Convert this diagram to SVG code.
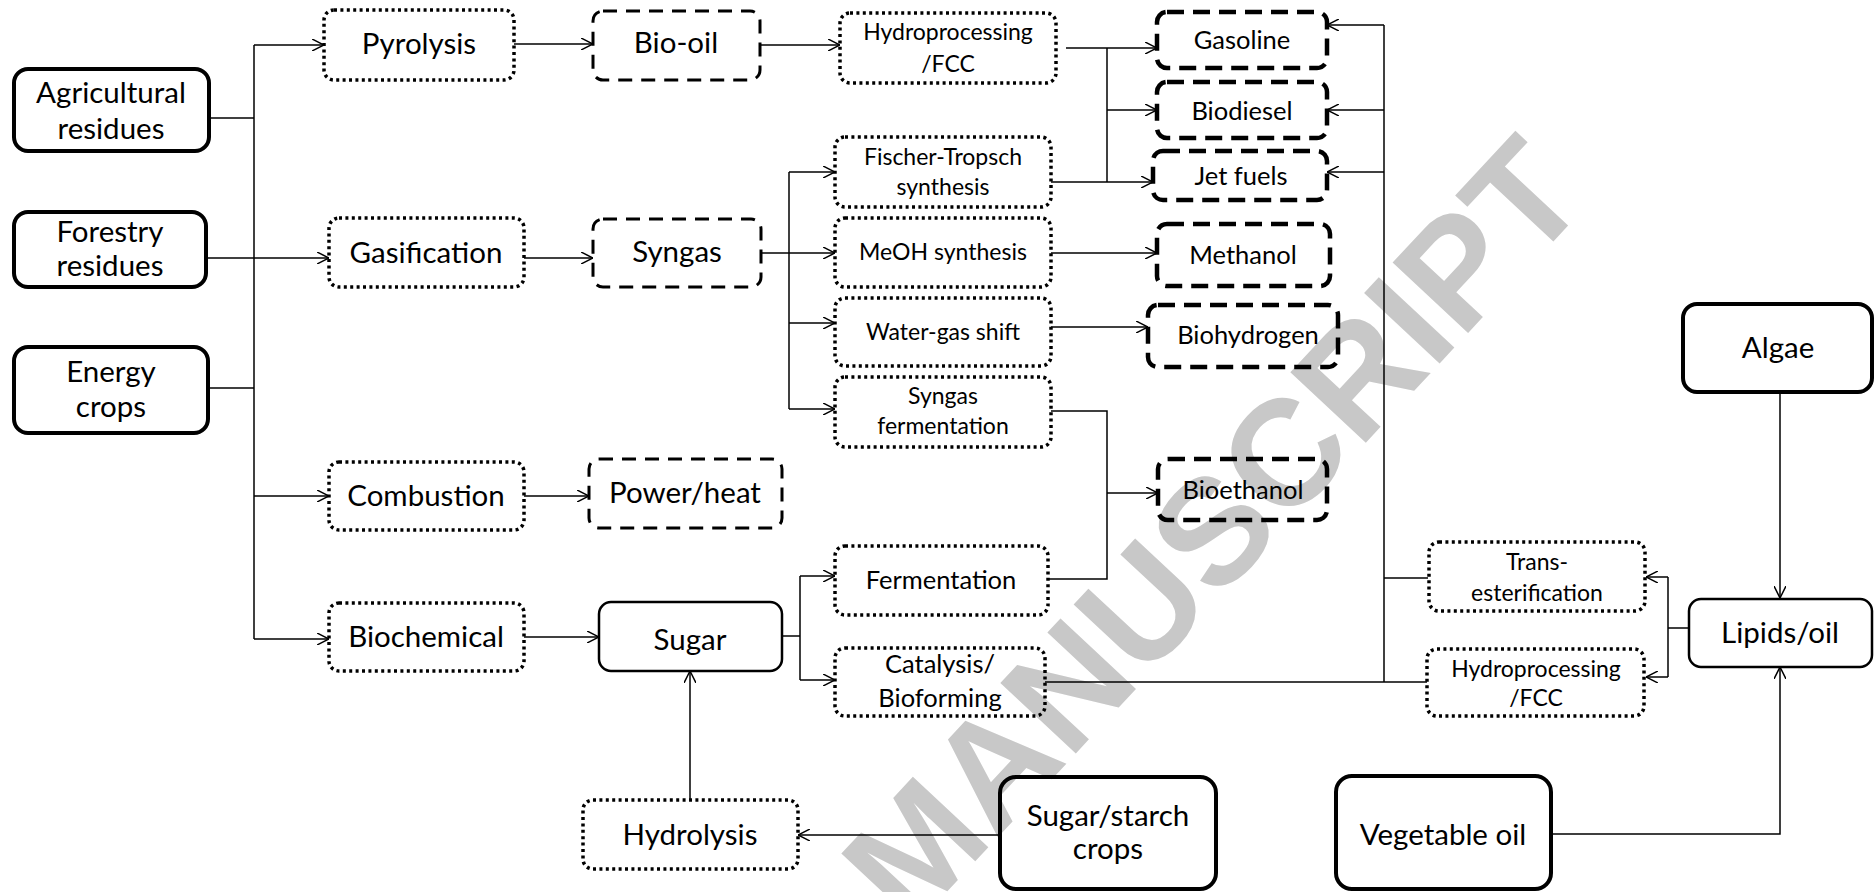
<svg xmlns="http://www.w3.org/2000/svg" width="1874" height="892" viewBox="0 0 1874 892">
<defs>
<marker id="arr" viewBox="0 0 12 12" refX="12" refY="6" markerWidth="12" markerHeight="12" markerUnits="userSpaceOnUse" orient="auto">
<path d="M0,0 L12,6 L0,12" fill="none" stroke="#000" stroke-width="1.5"/>
</marker>
</defs>
<style>
text{font-family:Lato,"Liberation Sans",sans-serif;fill:#000;text-anchor:middle}
.big{font-size:29.5px}
.med{font-size:25.5px}
.sm{font-size:23px}
.src{fill:none;stroke:#000;stroke-width:4}
.mid{fill:none;stroke:#000;stroke-width:2.5}
.dot{fill:none;stroke:#000;stroke-width:3.5;stroke-dasharray:3 3.4}
.dsh{fill:none;stroke:#000;stroke-width:3;stroke-dasharray:14 9}
.fuel{fill:none;stroke:#000;stroke-width:4.5;stroke-dasharray:17 9}
.ln{fill:none;stroke:#000;stroke-width:1.5}
.a{marker-end:url(#arr)}
.wm{font-family:"Liberation Sans",Arial,sans-serif;font-weight:bold;font-size:150px;fill:#c8c8c8;text-anchor:end}
</style>
<g id="watermark">
<text class="wm" transform="translate(1592,200) rotate(-47)">ACCEPTED MANUSCRIPT</text>
</g>
<g id="connectors">
<path class="ln" d="M209,118 H254"/>
<path class="ln a" d="M206,258 H329"/>
<path class="ln" d="M208,388 H254"/>
<path class="ln" d="M254,45 V639"/>
<path class="ln a" d="M254,45 H324"/>
<path class="ln a" d="M254,496 H329"/>
<path class="ln a" d="M254,639 H329"/>
<path class="ln a" d="M514,44 H593"/>
<path class="ln a" d="M524,258 H593"/>
<path class="ln a" d="M524,496 H589"/>
<path class="ln a" d="M524,637 H599"/>
<path class="ln a" d="M760,45 H840"/>
<path class="ln a" d="M761,253 H835"/>
<path class="ln" d="M789,172 V409"/>
<path class="ln a" d="M789,172 H835"/>
<path class="ln a" d="M789,323 H835"/>
<path class="ln a" d="M789,409 H835"/>
<path class="ln a" d="M1066,48 H1157"/>
<path class="ln" d="M1107,48 V182"/>
<path class="ln a" d="M1107,110 H1157"/>
<path class="ln a" d="M1051,182 H1153"/>
<path class="ln a" d="M1051,253 H1157"/>
<path class="ln a" d="M1051,327 H1148"/>
<path class="ln" d="M1051,411 H1107 V579 H1048"/>
<path class="ln a" d="M1107,493 H1158"/>
<path class="ln" d="M782,636 H800"/>
<path class="ln" d="M800,576 V680"/>
<path class="ln a" d="M800,576 H835"/>
<path class="ln a" d="M800,680 H835"/>
<path class="ln" d="M1045,682 H1427"/>
<path class="ln" d="M1384,25 V682"/>
<path class="ln a" d="M1384,25 H1327"/>
<path class="ln a" d="M1384,110 H1327"/>
<path class="ln a" d="M1384,172 H1327"/>
<path class="ln" d="M1428,578 H1384"/>
<path class="ln" d="M1689,628 H1668"/>
<path class="ln" d="M1668,577 V677"/>
<path class="ln a" d="M1668,577 H1646"/>
<path class="ln a" d="M1668,677 H1646"/>
<path class="ln a" d="M1780,392 V598"/>
<path class="ln a" d="M1551,834 H1780 V667"/>
<path class="ln a" d="M1000,835 H798"/>
<path class="ln a" d="M690,800 V671"/>
</g>
<g id="agri"><rect class="src" x="14" y="69" width="195" height="82" rx="14"/><text class="big" x="111" y="103">Agricultural</text><text class="big" x="111" y="139">residues</text></g>
<g id="forestry"><rect class="src" x="14" y="212" width="192" height="75" rx="14"/><text class="big" x="110" y="242">Forestry</text><text class="big" x="110" y="276">residues</text></g>
<g id="energy"><rect class="src" x="14" y="347" width="194" height="86" rx="14"/><text class="big" x="111" y="382">Energy</text><text class="big" x="111" y="417">crops</text></g>
<g id="pyrolysis"><rect class="dot" x="324" y="10" width="190" height="70" rx="10"/><text class="big" x="419" y="54">Pyrolysis</text></g>
<g id="gasification"><rect class="dot" x="329" y="218" width="195" height="69" rx="10"/><text class="big" x="426" y="263">Gasification</text></g>
<g id="combustion"><rect class="dot" x="329" y="462" width="195" height="68" rx="10"/><text class="big" x="426" y="506">Combustion</text></g>
<g id="biochemical"><rect class="dot" x="329" y="603" width="195" height="68" rx="10"/><text class="big" x="426" y="647">Biochemical</text></g>
<g id="biooil"><rect class="dsh" x="593" y="11" width="167" height="69" rx="10"/><text class="big" x="676" y="53">Bio-oil</text></g>
<g id="syngas"><rect class="dsh" x="593" y="219" width="168" height="68" rx="10"/><text class="big" x="677" y="262">Syngas</text></g>
<g id="powerheat"><rect class="dsh" x="589" y="459" width="193" height="69" rx="10"/><text class="big" x="685" y="503">Power/heat</text></g>
<g id="sugar"><rect class="mid" x="599" y="602" width="183" height="69" rx="12"/><text class="big" x="690" y="650">Sugar</text></g>
<g id="hydrolysis"><rect class="dot" x="583" y="800" width="215" height="69" rx="10"/><text class="big" x="690" y="845">Hydrolysis</text></g>
<g id="hydro1"><rect class="dot" x="840" y="13" width="216" height="70" rx="10"/><text class="sm" x="948" y="40">Hydroprocessing</text><text class="sm" x="948" y="72">/FCC</text></g>
<g id="ft"><rect class="dot" x="835" y="137" width="216" height="70" rx="10"/><text class="sm" x="943" y="165">Fischer-Tropsch</text><text class="sm" x="943" y="195">synthesis</text></g>
<g id="meoh"><rect class="dot" x="835" y="218" width="216" height="69" rx="10"/><text class="sm" x="943" y="260">MeOH synthesis</text></g>
<g id="wgs"><rect class="dot" x="835" y="298" width="216" height="68" rx="10"/><text class="sm" x="943" y="340">Water-gas shift</text></g>
<g id="sferm"><rect class="dot" x="835" y="377" width="216" height="70" rx="10"/><text class="sm" x="943" y="404">Syngas</text><text class="sm" x="943" y="434">fermentation</text></g>
<g id="ferm"><rect class="dot" x="835" y="546" width="213" height="69" rx="10"/><text class="med" x="941" y="589">Fermentation</text></g>
<g id="cat"><rect class="dot" x="835" y="648" width="210" height="68" rx="10"/><text class="med" x="940" y="673">Catalysis/</text><text class="med" x="940" y="707">Bioforming</text></g>
<g id="gasoline"><rect class="fuel" x="1157" y="12" width="170" height="56" rx="10"/><text class="med" x="1242" y="49">Gasoline</text></g>
<g id="biodiesel"><rect class="fuel" x="1157" y="82" width="170" height="56" rx="10"/><text class="med" x="1242" y="120">Biodiesel</text></g>
<g id="jetfuels"><rect class="fuel" x="1153" y="151" width="174" height="49" rx="10"/><text class="med" x="1241" y="185">Jet fuels</text></g>
<g id="methanol"><rect class="fuel" x="1157" y="224" width="173" height="62" rx="10"/><text class="med" x="1243" y="264">Methanol</text></g>
<g id="biohydrogen"><rect class="fuel" x="1148" y="305" width="190" height="62" rx="10"/><text class="med" x="1248" y="344">Biohydrogen</text></g>
<g id="bioethanol"><rect class="fuel" x="1158" y="459" width="169" height="61" rx="10"/><text class="med" x="1243" y="499">Bioethanol</text></g>
<g id="trans"><rect class="dot" x="1429" y="542" width="216" height="69" rx="10"/><text class="sm" x="1537" y="570">Trans-</text><text class="sm" x="1537" y="601">esterification</text></g>
<g id="hydro2"><rect class="dot" x="1427" y="649" width="217" height="67" rx="10"/><text class="sm" x="1536" y="677">Hydroprocessing</text><text class="sm" x="1536" y="706">/FCC</text></g>
<g id="algae"><rect class="src" x="1683" y="304" width="189" height="88" rx="14"/><text class="big" x="1778" y="358">Algae</text></g>
<g id="lipids"><rect class="mid" x="1689" y="599" width="183" height="68" rx="12"/><text class="big" x="1780" y="643">Lipids/oil</text></g>
<g id="vegoil"><rect class="src" x="1336" y="776" width="215" height="113" rx="16"/><text class="big" x="1443" y="845">Vegetable oil</text></g>
<g id="sugarstarch"><rect class="src" x="1000" y="777" width="216" height="112" rx="16"/><text class="big" x="1108" y="826">Sugar/starch</text><text class="big" x="1108" y="859">crops</text></g>
</svg>
